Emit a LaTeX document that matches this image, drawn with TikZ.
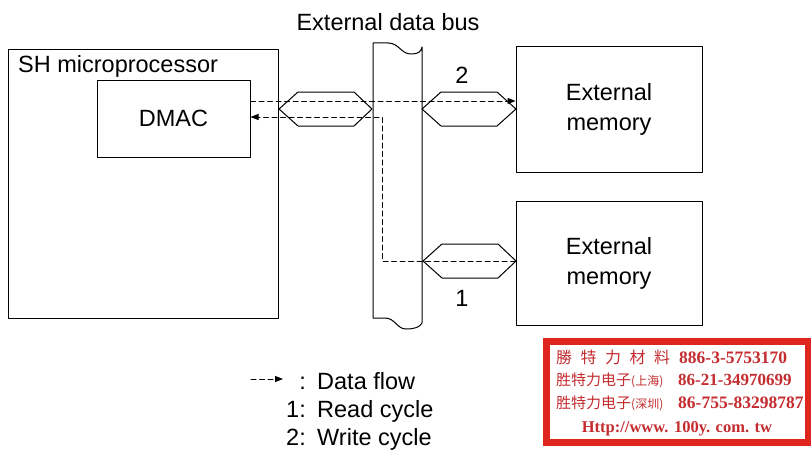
\documentclass[tikz,border=0pt]{standalone}
\usepackage{fontspec}
\setmainfont{Liberation Sans}
\newfontfamily\stampserif{Liberation Serif}
\newfontfamily\cjktc{Noto Sans CJK TC}
\newfontfamily\cjksc{Noto Sans CJK SC}
\usetikzlibrary{arrows.meta}

\definecolor{stampred}{RGB}{222,38,30}
\definecolor{stampink}{RGB}{196,44,48}

\begin{document}
\begin{tikzpicture}[x=1pt,y=-1pt,line cap=round,line join=round,
  box/.style={draw,line width=1pt,inner sep=0pt},
  lbl/.style={font=\fontsize{23.5}{30}\selectfont,inner sep=0pt},
  flow/.style={line width=1pt,dash pattern=on 5pt off 3.5pt,-{Triangle[length=8pt,width=6pt]}},
  hexbus/.style={line width=1pt},
  stamptxt/.style={inner sep=0pt,text=stampink}]
\useasboundingbox (0,0) rectangle (811,452);

%% blocks
\node[box,minimum width=270pt,minimum height=268pt] (proc) at (143,184) {};
\node[lbl,anchor=north west] (proclbl) at (18,55) {SH microprocessor};
\node[box,lbl,minimum width=153pt,minimum height=77pt] (dmac) at (173.5,118.5) {DMAC};
\node[box,lbl,align=center,minimum width=186pt,minimum height=125pt] (mem1) at (609,109.5) {External\\memory};
\node[box,lbl,align=center,minimum width=186pt,minimum height=124pt] (mem2) at (609,263) {External\\memory};

%% data bus
\draw[line width=1pt] (373,318) -- (373,43) -- (388,43)
  .. controls (399,43) and (401,54) .. (411,54)
  .. controls (418,54) and (421,52) .. (422,47) -- (422,323)
  .. controls (420,327) and (415,329) .. (406,329)
  .. controls (397,329) and (395,318) .. (385,318) -- cycle;
\node[lbl] (buslbl) at (388,22) {External data bus};

%% bus drivers
\draw[hexbus] (279,109) -- (298,92) -- (354,92) -- (372,109) -- (354,126) -- (298,126) -- cycle;
\draw[hexbus] (422,109) -- (441,92) -- (497,92) -- (516,109) -- (497,126) -- (441,126) -- cycle;
\draw[hexbus] (423,261) -- (442,244) -- (498,244) -- (516,261) -- (498,278) -- (442,278) -- cycle;
\node[lbl] (cyc2) at (462,75) {2};
\node[lbl] (cyc1) at (462,298) {1};

%% data flow
\coordinate (wy) at (0,101);
\coordinate (rd1) at (382,261);
\coordinate (rd2) at (382,117);
\draw[flow] (dmac.east |- wy) -- (mem1.west |- wy);
\draw[flow] (mem2.west |- rd1) -- (rd1) -- (rd2) -- (dmac.east |- rd2);

%% legend
\coordinate (lg0) at (251,379);
\coordinate (lg1) at (283,379);
\draw[flow] (lg0) -- (lg1);
\node[lbl,anchor=base east] (key0) at (306,389) {:};
\node[lbl,anchor=base west] (txt0) at (317,389) {Data flow};
\node[lbl,anchor=base east] (key1) at (306,417) {1:};
\node[lbl,anchor=base west] (txt1) at (317,417) {Read cycle};
\node[lbl,anchor=base east] (key2) at (306,445) {2:};
\node[lbl,anchor=base west] (txt2) at (317,445) {Write cycle};

%% stamp
\fill[white] (543,338) rectangle (811,446);
\draw[stampred,line width=7pt,line cap=butt,line join=miter] (546.5,341.5) rectangle (808,442.5);
\node[stamptxt,anchor=base west] (st1) at (556,363)
  {\cjktc\fontsize{16}{18}\selectfont 勝\hspace{8.5pt}特\hspace{8.5pt}力\hspace{8.5pt}材\hspace{8.5pt}料};
\node[stamptxt,anchor=base west] (st2) at (556,385)
  {\cjksc\fontsize{15}{18}\selectfont 胜特力电子{\fontsize{12}{14}\selectfont(上海)}};
\node[stamptxt,anchor=base west] (st3) at (556,408)
  {\cjksc\fontsize{15}{18}\selectfont 胜特力电子{\fontsize{12}{14}\selectfont(深圳)}};
\node[stamptxt,anchor=base west] (nr1) at (679,363) {\stampserif\bfseries\fontsize{17.5}{18}\selectfont 886-3-5753170};
\node[stamptxt,anchor=base west] (nr2) at (678,385) {\stampserif\bfseries\fontsize{17}{18}\selectfont 86-21-34970699};
\node[stamptxt,anchor=base west] (nr3) at (678,408) {\stampserif\bfseries\fontsize{17.5}{18}\selectfont 86-755-83298787};
\node[stamptxt,anchor=base] (url) at (677,432) {\stampserif\bfseries\fontsize{16.5}{18}\selectfont Http://www. 100y. com. tw};
\end{tikzpicture}
\end{document}
